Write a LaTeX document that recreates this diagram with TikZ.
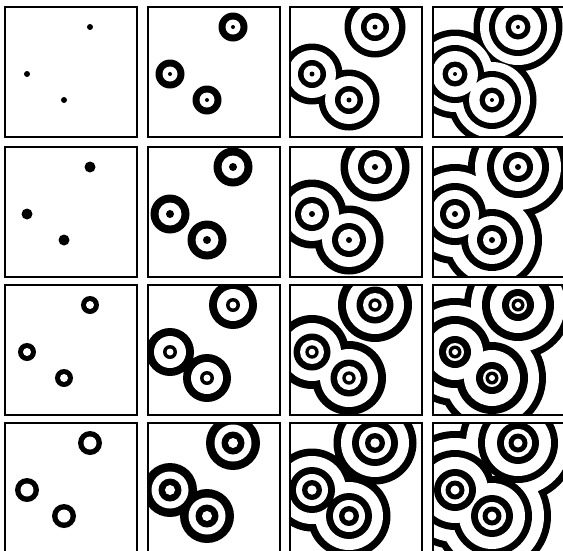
\documentclass[tikz,border=0pt]{standalone}
\begin{document}
\begin{tikzpicture}[x=1pt,y=-1pt,
  panelborder/.style={draw=black,line width=1.3pt}]
\useasboundingbox (0,0) rectangle (563,550);
\clip (0,0) rectangle (563,550);
\fill[white] (0,0) rectangle (563,550);
\newcommand{\wavepanel}[3]{%
  \begin{scope}[shift={(#1,#2)}]
    \begin{scope}
      \clip (0,0) rectangle (132,130);
      \foreach \ri/\ro in {#3}{
        \fill[black] (85,20) circle (\ro pt) (22,67) circle (\ro pt) (59,93) circle (\ro pt);
        \ifdim\ri pt>0pt
          \fill[white] (85,20) circle (\ri pt) (22,67) circle (\ri pt) (59,93) circle (\ri pt);
        \fi
      }
    \end{scope}
    \draw[panelborder] (0,0) rectangle (132,130);
  \end{scope}}
% row 1
\wavepanel{5}{7}{0/3}
\wavepanel{148}{7}{7.5/14.5,0/2}
\wavepanel{290}{7}{24/30.5,8.5/14,0/2.5}
\wavepanel{433}{7}{38/44.5,23/29,7/12.5,0/2}
% row 2
\wavepanel{5}{147}{0/5.5}
\wavepanel{148}{147}{11.5/19.5,0/4}
\wavepanel{290}{147}{27/34.5,11/17,0/3}
\wavepanel{433}{147}{43/50,24/31,9/15,0/3}
% row 3
\wavepanel{5}{285}{4/9}
\wavepanel{148}{285}{16/24,3.5/7}
\wavepanel{290}{285}{29/37,12/18.5,3.3/6.7}
\wavepanel{433}{285}{47/54,28/36,9/16,3/6.5}
% row 4
\wavepanel{5}{423}{6.5/12}
\wavepanel{148}{423}{18.5/27,5/11.5}
\wavepanel{290}{423}{34/41.5,16/23,4.7/10}
\wavepanel{433}{423}{52/59,33/40,14/21,4.5/9.5}
\end{tikzpicture}
\end{document}
